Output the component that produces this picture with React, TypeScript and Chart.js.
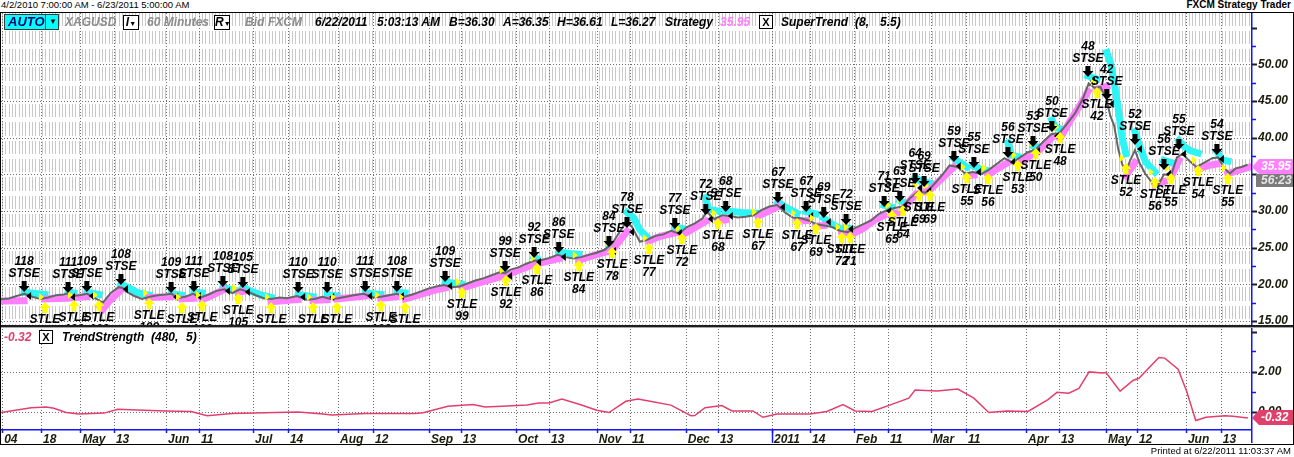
import React, { useEffect, useRef } from "react";
import { Chart, registerables } from "chart.js";

Chart.register(...registerables);

const SANS = '"Liberation Sans", Arial, Helvetica, sans-serif';
const bi = (size: number) => `italic bold ${size}px ${SANS}`;
const W = 1294;

// ---------- header texts ----------
const rangeText = "4/2/2010 7:00:00 AM - 6/23/2011 5:00:00 AM";
const appTitle = "FXCM Strategy Trader";
const printedText = "Printed at 6/22/2011 11:03:37 AM";
const symbol = "XAGUSD";
const period = "60 Minutes";
const quoteDate = "6/22/2011";
const quoteTime = "5:03:13 AM";
const bidText = "B=36.30";
const askText = "A=36.35";
const highText = "H=36.61";
const lowText = "L=36.27";
const countdown = "56:23";

// ---------- x axis (trading days since 4/2/2010) ----------
const X_MAX = 318.9;
const tickDays = [0.3, 10.2, 20.2, 28.8, 42.1, 50.5, 64.3, 73.2, 86.0, 94.9, 109.2, 117.3, 131.4, 139.8, 152.0, 160.5, 174.7, 182.9, 196.7, 206.4, 217.6, 226.3, 237.2, 246.2, 261.5, 269.9, 281.9, 289.8, 302.3, 311.2];
const tickLabels = ["04", "18", "May", "13", "Jun", "11", "Jul", "14", "Aug", "12", "Sep", "13", "Oct", "13", "Nov", "11", "Dec", "13", "2011", "14", "Feb", "11", "Mar", "11", "Apr", "13", "May", "12", "Jun", "13"];

// ---------- price panel ----------
const PRICE_MIN = 14.44;
const PRICE_MAX = 56.86;
const priceTicks = [15, 20, 25, 30, 35, 40, 45, 50];

const priceDays = [0, 2, 4, 6, 8, 10, 12, 14, 16, 17, 18, 20, 22, 24, 26, 28, 30, 31, 32, 34, 36, 38, 40, 42, 43.5, 45, 47, 49, 51, 53, 55, 57, 59, 61, 63, 65, 67, 69, 71, 73, 75.5, 78, 80, 82, 84, 86, 88, 90, 92.5, 95, 97, 99, 101, 103, 105, 107, 109, 111, 113, 115, 117, 119, 121, 123, 125, 127, 128.6, 130, 132, 134, 136, 138, 140, 142, 144, 146, 148, 150, 152, 154, 156, 158, 159.7, 161, 163, 165, 167, 169, 171, 173, 175, 177, 179, 180, 182, 184, 186, 188, 190, 192, 194, 196, 198, 200, 202, 204, 206, 208, 210, 212, 214, 216, 218, 220, 222, 224, 226, 228, 230, 232, 234, 236, 238, 240, 242, 244, 246, 248, 250, 252, 254, 256, 258, 260, 262, 264, 266, 268, 270, 272, 274, 276, 277.5, 279, 280.5, 282, 283, 284, 285, 286, 287, 288, 289.3, 290.5, 292, 293.5, 295, 296.7, 298.5, 300, 301.5, 303, 305, 307, 309, 310.5, 312, 313.5, 315, 316.5, 318];
const priceValues = [17.95, 18.05, 18.4, 18.7, 18.3, 18.0, 18.2, 18.5, 18.6, 18.75, 18.4, 18.5, 18.7, 18.1, 17.5, 18.8, 19.6, 19.5, 19.0, 18.4, 18.0, 18.3, 18.5, 18.6, 18.7, 18.1, 18.3, 18.7, 18.2, 18.6, 19.1, 19.3, 18.8, 19.3, 19.0, 18.5, 18.1, 18.0, 18.2, 18.1, 18.4, 17.9, 18.0, 18.3, 18.0, 18.1, 18.3, 18.5, 18.7, 18.2, 18.3, 18.5, 18.7, 18.3, 18.6, 19.0, 19.4, 19.7, 19.9, 19.6, 19.7, 20.1, 20.5, 20.8, 21.2, 21.6, 21.5, 22.0, 22.3, 22.8, 23.2, 23.3, 23.6, 24.0, 23.7, 23.5, 23.7, 24.0, 24.3, 24.7, 25.6, 27.3, 28.6, 27.8, 25.8, 26.1, 26.6, 26.8, 27.3, 26.9, 27.8, 28.3, 29.0, 29.9, 28.9, 29.4, 29.3, 29.1, 29.2, 29.4, 30.1, 30.6, 30.8, 29.8, 29.1, 29.0, 28.7, 28.2, 28.0, 27.8, 27.3, 27.1, 27.7, 28.2, 28.7, 29.6, 30.1, 30.4, 30.6, 31.8, 32.6, 32.5, 33.6, 34.8, 36.2, 36.0, 35.1, 35.3, 35.0, 35.6, 36.4, 37.2, 36.6, 37.3, 38.0, 38.4, 39.5, 40.5, 40.6, 41.9, 43.3, 45.3, 47.4, 46.8, 46.9, 45.3, 43.0, 41.6, 38.5, 36.4, 35.4, 36.8, 38.3, 36.5, 35.0, 34.0, 33.3, 35.0, 34.8, 37.3, 37.8, 36.9, 36.0, 36.6, 37.2, 37.3, 35.9, 35.1, 35.8, 36.0, 36.3];

// SuperTrend, up-trend (below price); null = break between segments
const upDays = [0, 5.9, null, 11.2, 17.1, null, 18.6, 21.9, null, 25.0, 26.0, 27.5, 29.0, 30.6, null, 37.8, 43.4, null, 46.2, 49.2, null, 51.3, 53.5, 56.6, null, 60.5, 61.7, null, 68.9, 75.8, null, 79.6, 83.2, null, 85.7, 92.9, null, 96.9, 101.0, null, 103.1, 107, 110, 113.3, null, 117.6, 122, 128.6, 128.8, 132, 136.0, null, 136.7, 142.3, null, 147.4, 151, 155.1, 155.9, 157.5, 159.7, null, 165.3, 168, 171.9, null, 173.7, 177, 179.8, null, 182.9, 184.9, null, 193.1, 196, 198.2, null, 203.1, 205.4, null, 207.9, 209.9, null, 214.5, 215.6, null, 216.6, 220, 223, 225.3, null, 227.3, 229.3, null, 230.1, 232, 233.2, null, 234.2, 235.5, null, 237.0, 240, 243.1, null, 246.4, 248.2, null, 251.8, 254, 256.9, null, 259.4, 263.3, 264.0, 266, 268.1, null, 270.2, 273, 275.5, 277.3, null, 279.6, 282.1, null, 287.0, 289.3, null, 294.4, 296.7, null, 298.5, 300.5, null, 305.4, 308, 310.2, null, 313.0, 315.5, 318.3];
const upValues = [17.7, 17.75, null, 18.0, 18.1, null, 18.2, 18.3, null, 17.1, 16.6, 17.6, 18.4, 19.2, null, 18.2, 18.3, null, 18.0, 18.1, null, 17.9, 18.4, 19.2, null, 18.9, 19.0, null, 17.6, 17.9, null, 17.8, 17.9, null, 18.0, 18.4, null, 18.1, 18.3, null, 18.0, 18.6, 19.1, 19.5, null, 19.5, 20.2, 21.2, 21.2, 21.9, 22.7, null, 22.8, 23.5, null, 23.3, 23.9, 24.5, 24.6, 25.7, 27.2, null, 25.9, 26.5, 27.0, null, 26.7, 27.7, 28.6, null, 28.6, 28.8, null, 29.3, 30.0, 30.6, null, 28.6, 28.7, null, 27.9, 28.0, null, 26.9, 27.0, null, 26.7, 27.6, 28.8, 29.4, null, 29.6, 29.8, null, 30.2, 31.5, 32.2, null, 32.4, 32.6, null, 32.9, 34.4, 36.0, null, 34.8, 34.9, null, 34.9, 35.7, 36.6, null, 36.4, 37.8, 37.9, 38.9, 40.0, null, 39.9, 42.5, 44.6, 46.3, null, 46.6, 47.0, null, 34.8, 36.6, null, 33.6, 34.0, null, 34.6, 36.9, null, 35.7, 36.2, 36.4, null, 35.1, 35.5, 35.95];

// SuperTrend, down-trend (above price)
const downDays = [5.9, 11.2, null, 17.1, 18.6, null, 21.9, 25.0, null, 30.6, 33, 35, 37.8, null, 43.4, 46.2, null, 49.2, 51.3, null, 56.6, 58.5, 60.5, null, 61.7, 64, 66.5, 68.9, null, 75.8, 79.6, null, 83.2, 85.7, null, 92.9, 96.9, null, 101.0, 103.1, null, 113.3, 117.6, null, 128.6, 128.8, null, 136.0, 136.7, null, 142.3, 145, 147.4, null, 155.1, 155.9, null, 159.7, 161.5, 163, 165.3, null, 171.9, 173.7, null, 179.8, 180.5, 182.9, null, 184.9, 189, 193.1, null, 198.2, 200.5, 203.1, null, 205.4, 207.9, null, 209.9, 212, 214.5, null, 215.6, 216.6, null, 225.3, 227.3, null, 229.3, 230.1, null, 233.2, 234.2, null, 235.5, 237.0, null, 243.1, 245, 246.4, null, 248.2, 250, 251.8, null, 256.9, 257.8, 259.4, null, 263.3, 264.0, null, 268.1, 269, 270.2, null, 277.3, 279.6, null, 282.1, 283, 284, 285, 286, 287.0, null, 289.3, 290.5, 292, 294.4, null, 296.7, 298.5, null, 300.5, 302, 303.5, 305.4, null, 310.2, 311.5, 313.0];
const downValues = [18.9, 18.6, null, 18.9, 18.8, null, 18.9, 18.6, null, 20.0, 19.4, 18.8, 18.5, null, 18.7, 18.5, null, 18.9, 18.8, null, 19.6, 19.3, 19.1, null, 19.6, 19.0, 18.5, 18.2, null, 18.6, 18.3, null, 18.6, 18.4, null, 18.8, 18.6, null, 18.9, 18.8, null, 20.3, 20.0, null, 21.9, 21.8, null, 23.7, 23.5, null, 24.4, 24.2, 24.1, null, 25.1, 25.0, null, 29.8, 29.0, 27.4, 26.2, null, 27.8, 27.6, null, 31.8, 30.2, 30.0, null, 30.0, 29.8, 29.7, null, 31.2, 30.4, 29.7, null, 29.9, 29.6, null, 29.0, 28.2, 27.5, null, 27.7, 27.6, null, 30.8, 30.5, null, 31.4, 31.2, null, 34.6, 34.2, null, 34.0, 33.8, null, 37.2, 36.5, 36.0, null, 36.1, 35.7, 35.5, null, 39.3, 37.6, 37.4, null, 38.9, 38.8, null, 42.4, 41.4, 41.2, null, 48.4, 48.0, null, 51.6, 50.3, 47.5, 44.0, 40.0, 37.8, null, 40.8, 38.8, 36.7, 35.3, null, 36.9, 36.6, null, 39.6, 38.7, 38.2, 37.9, null, 38.1, 37.0, 36.8];

// Short entries (STSE)
const stseDays = [5.9, 17.1, 21.9, 30.6, 43.4, 49.2, 56.6, 61.7, 75.8, 83.2, 92.9, 101.0, 113.3, 128.6, 136.0, 142.3, 155.1, 159.7, 171.9, 179.8, 184.9, 198.2, 205.4, 209.9, 215.6, 225.3, 229.3, 233.2, 235.5, 243.1, 248.2, 256.9, 263.3, 268.1, 277.3, 282.1, 289.3, 296.7, 300.5, 310.2];
const stseValues = [18.93, 18.81, 18.93, 19.9, 18.81, 18.93, 19.62, 19.49, 18.81, 18.81, 18.93, 18.93, 20.31, 21.67, 23.58, 24.26, 25.08, 27.67, 27.54, 29.45, 29.86, 31.09, 29.86, 29.04, 28.08, 30.54, 31.22, 33.68, 33.27, 36.68, 35.86, 37.22, 38.73, 40.77, 48.27, 45.14, 39.0, 35.59, 38.32, 37.63];
const stseCounts = [118, 111, 109, 108, 109, 111, 108, 105, 110, 110, 111, 108, 109, 99, 92, 86, 84, 78, 77, 72, 68, 67, 67, 69, 72, 71, 63, 64, 69, 59, 55, 56, 53, 50, 48, 42, 52, 56, 55, 54];

// Long entries (STLE)
const stleDays = [11.2, 18.6, 25.0, 37.8, 46.2, 51.3, 60.5, 68.9, 79.6, 85.7, 96.9, 103.1, 117.6, 128.8, 136.7, 147.4, 155.9, 165.3, 173.7, 182.9, 193.1, 203.1, 207.9, 214.5, 216.6, 227.3, 230.1, 234.2, 237.0, 246.4, 251.8, 259.4, 264.0, 270.2, 279.6, 287.0, 294.4, 298.5, 305.4, 313.0];
const stleValues = [17.58, 17.85, 17.85, 18.12, 17.58, 17.85, 18.81, 17.58, 17.58, 17.58, 17.85, 17.58, 19.62, 21.26, 22.9, 23.31, 25.08, 25.63, 26.99, 29.04, 29.17, 29.04, 28.36, 27.13, 27.13, 30.13, 30.81, 32.86, 32.86, 35.31, 35.18, 36.95, 38.59, 40.77, 46.91, 36.55, 34.63, 35.18, 36.27, 35.18];
const stleCounts = [111, 109, 108, 109, 111, 108, 105, 110, 110, 111, 108, 109, 99, 92, 86, 84, 78, 77, 72, 68, 67, 67, 69, 72, 71, 65, 64, 69, 69, 55, 56, 53, 50, 48, 42, 52, 56, 55, 54, 55];

// ---------- TrendStrength panel ----------
const TS_MIN = -0.875;
const TS_MAX = 4.125;
const tsTicks = [0, 2];
const tsDays = [0, 7.7, 11.5, 13.5, 16.6, 19.9, 26.3, 29.8, 34.7, 42.1, 48.5, 52.6, 58.9, 67.3, 75.8, 82.1, 84.4, 92.9, 105.6, 107.7, 114.0, 120.4, 123.5, 127.8, 134.2, 137.2, 139.8, 143.1, 147.7, 152.0, 155.1, 159.4, 162.5, 165.6, 170.9, 176.0, 177.0, 179.6, 183.9, 186.5, 191.8, 194.4, 198.0, 206.4, 210.7, 214.8, 217.9, 222.2, 228.3, 231.6, 233.2, 238.8, 244.1, 248.2, 252.0, 256.6, 262.0, 267.1, 269.4, 272.4, 275.0, 277.6, 280.9, 281.9, 285.5, 288.8, 290.3, 295.4, 296.9, 300.3, 302.5, 304.8, 307.4, 312.2, 314.3, 318.1];
const tsValues = [-0.05, 0.19, 0.22, 0.16, -0.05, -0.13, -0.08, 0.11, 0.08, 0.03, 0.0, -0.21, -0.1, -0.06, -0.02, -0.13, -0.18, -0.1, -0.1, -0.06, 0.26, 0.35, 0.22, 0.26, 0.32, 0.42, 0.43, 0.62, 0.35, 0.06, -0.05, 0.51, 0.62, 0.51, 0.32, -0.21, -0.2, 0.19, 0.3, 0.03, 0.03, -0.29, -0.13, -0.13, 0.0, 0.35, 0.03, 0.0, 0.43, 0.67, 1.07, 1.02, 1.12, 0.67, -0.05, 0.03, 0.0, 0.59, 0.96, 0.91, 1.15, 1.98, 1.92, 1.95, 1.02, 1.55, 1.66, 2.7, 2.67, 2.11, 1.0, -0.45, -0.29, -0.21, -0.24, -0.32];

// ---------- helpers ----------
function toPoints(days: (number | null)[], vals: (number | null)[]) {
  const out: { x: number; y: number | null }[] = [];
  let last = 0;
  for (let i = 0; i < days.length; i++) {
    const d = days[i];
    const v = vals[i];
    if (d === null || v === null) out.push({ x: last, y: null });
    else {
      out.push({ x: d, y: v });
      last = d;
    }
  }
  return out;
}

function hLine(ctx: CanvasRenderingContext2D, x1: number, x2: number, y: number) {
  ctx.beginPath();
  ctx.moveTo(x1, y);
  ctx.lineTo(x2, y);
  ctx.stroke();
}
function vLine(ctx: CanvasRenderingContext2D, x: number, y1: number, y2: number) {
  ctx.beginPath();
  ctx.moveTo(x, y1);
  ctx.lineTo(x, y2);
  ctx.stroke();
}

function drawTag(ctx: CanvasRenderingContext2D, left: number, y: number, text: string, fill: string) {
  ctx.fillStyle = fill;
  ctx.beginPath();
  ctx.moveTo(left + 1, y);
  ctx.lineTo(left + 8, y - 8);
  ctx.lineTo(W - 1, y - 8);
  ctx.lineTo(W - 1, y + 7);
  ctx.lineTo(left + 8, y + 7);
  ctx.closePath();
  ctx.fill();
  ctx.fillStyle = "#ffffff";
  ctx.font = bi(12);
  ctx.textAlign = "left";
  ctx.textBaseline = "middle";
  ctx.fillText(text, left + 10, y);
}

const tickFont = { family: SANS, size: 12, style: "italic" as const, weight: "bold" as const };
const AXIS_BLUE = "#1414ff";

const panelAPlugin = {
  id: "panelA",
  beforeDraw(chart: any) {
    const { ctx, chartArea: ca } = chart;
    const xs = chart.scales.x;
    const ys = chart.scales.y;
    ctx.save();
    ctx.fillStyle = "#ffffff";
    ctx.fillRect(0, 0, chart.width, chart.height);
    // hatch texture of the panel background
    ctx.fillStyle = "#c8c8c8";
    for (let x = ca.left + 1; x < ca.right - 0.5; x += 10 / 3) {
      ctx.fillRect(Math.round(x), 1, 1, ca.bottom - 1);
    }
    ctx.fillStyle = "#ffffff";
    for (let v = 2.5 * Math.ceil(PRICE_MIN / 2.5); v <= PRICE_MAX; v += 2.5) {
      const py = Math.round(ys.getPixelForValue(v));
      ctx.fillRect(ca.left, py - 2, ca.right - ca.left, 5);
    }
    // dotted grid
    ctx.strokeStyle = "#6e6e6e";
    ctx.lineWidth = 1;
    ctx.setLineDash([1, 2]);
    for (const v of priceTicks) hLine(ctx, ca.left, ca.right, Math.round(ys.getPixelForValue(v)) + 0.5);
    for (const d of tickDays) vLine(ctx, Math.round(xs.getPixelForValue(d)) + 0.5, 1, ca.bottom);
    ctx.setLineDash([]);
    ctx.restore();
  },
  afterDatasetsDraw(chart: any) {
    const { ctx, chartArea: ca } = chart;
    const xs = chart.scales.x;
    const ys = chart.scales.y;
    ctx.save();
    ctx.beginPath();
    ctx.rect(ca.left, 0, ca.right - ca.left, ca.bottom);
    ctx.clip();
    // exit markers
    stseDays.forEach((d, i) => {
      const x = xs.getPixelForValue(d);
      const y = ys.getPixelForValue(stseValues[i]);
      ctx.fillStyle = "#000000";
      ctx.beginPath();
      ctx.moveTo(x + 2, y + 4);
      ctx.lineTo(x + 7, y);
      ctx.lineTo(x + 7, y + 8);
      ctx.closePath();
      ctx.fill();
    });
    stleDays.forEach((d, i) => {
      const x = xs.getPixelForValue(d);
      const y = ys.getPixelForValue(stleValues[i]);
      ctx.fillStyle = "#ffff00";
      ctx.beginPath();
      ctx.moveTo(x - 1, y - 5);
      ctx.lineTo(x - 6, y - 9);
      ctx.lineTo(x - 6, y - 1);
      ctx.closePath();
      ctx.fill();
    });
    // entry arrows
    stseDays.forEach((d, i) => {
      const x = xs.getPixelForValue(d);
      const y = ys.getPixelForValue(stseValues[i]);
      ctx.fillStyle = "#000000";
      ctx.beginPath();
      ctx.moveTo(x - 2.5, y - 11);
      ctx.lineTo(x + 2.5, y - 11);
      ctx.lineTo(x + 2.5, y - 6);
      ctx.lineTo(x + 5.5, y - 6);
      ctx.lineTo(x, y);
      ctx.lineTo(x - 5.5, y - 6);
      ctx.lineTo(x - 2.5, y - 6);
      ctx.closePath();
      ctx.fill();
    });
    stleDays.forEach((d, i) => {
      const x = xs.getPixelForValue(d);
      const y = ys.getPixelForValue(stleValues[i]);
      ctx.fillStyle = "#ffff00";
      ctx.beginPath();
      ctx.moveTo(x - 2.5, y + 11);
      ctx.lineTo(x + 2.5, y + 11);
      ctx.lineTo(x + 2.5, y + 6);
      ctx.lineTo(x + 5.5, y + 6);
      ctx.lineTo(x, y);
      ctx.lineTo(x - 5.5, y + 6);
      ctx.lineTo(x - 2.5, y + 6);
      ctx.closePath();
      ctx.fill();
    });
    // labels
    ctx.font = bi(12);
    ctx.textAlign = "center";
    ctx.textBaseline = "middle";
    ctx.fillStyle = "#000000";
    stseDays.forEach((d, i) => {
      const x = xs.getPixelForValue(d);
      const y = ys.getPixelForValue(stseValues[i]);
      ctx.fillText("STSE", x, y - 18);
      ctx.fillText(String(stseCounts[i]), x, y - 30);
    });
    stleDays.forEach((d, i) => {
      const x = xs.getPixelForValue(d);
      const y = ys.getPixelForValue(stleValues[i]);
      ctx.fillText("STLE", x, y + 18);
      ctx.fillText(String(stleCounts[i]), x, y + 30);
    });
    ctx.restore();
  },
  afterDraw(chart: any) {
    const { ctx, chartArea: ca } = chart;
    const ys = chart.scales.y;
    ctx.save();
    // right axis line
    ctx.strokeStyle = AXIS_BLUE;
    ctx.lineWidth = 1.5;
    vLine(ctx, ca.right + 0.75, 0, chart.height);
    // axis tick marks
    for (let v = 2.5 * Math.ceil(PRICE_MIN / 2.5); v <= PRICE_MAX; v += 2.5) {
      const py = Math.round(ys.getPixelForValue(v)) + 0.5;
      const major = Math.abs(v % 5) < 0.01;
      ctx.strokeStyle = major ? "#1c1c30" : AXIS_BLUE;
      ctx.lineWidth = major ? 2 : 1.5;
      hLine(ctx, ca.right + 1, ca.right + (major ? 6 : 5), py);
    }
    // last-value tags
    const last = upValues[upValues.length - 1] as number;
    const ty = Math.round(ys.getPixelForValue(last));
    drawTag(ctx, ca.right, ty, last.toFixed(2), "#ff80ff");
    ctx.fillStyle = "#7a7a7a";
    ctx.fillRect(ca.right + 5, ty + 7, W - 1 - (ca.right + 5), 13);
    ctx.fillStyle = "#e6e6e6";
    ctx.font = bi(12);
    ctx.textAlign = "left";
    ctx.textBaseline = "middle";
    ctx.fillText(countdown, ca.right + 10, ty + 14);
    ctx.restore();
  },
};

const panelBPlugin = {
  id: "panelB",
  beforeDraw(chart: any) {
    const { ctx, chartArea: ca } = chart;
    const xs = chart.scales.x;
    const ys = chart.scales.y;
    ctx.save();
    ctx.fillStyle = "#ffffff";
    ctx.fillRect(0, 0, chart.width, chart.height);
    ctx.strokeStyle = "#6e6e6e";
    ctx.lineWidth = 1;
    ctx.setLineDash([1, 2]);
    for (const v of tsTicks) hLine(ctx, ca.left, ca.right, Math.round(ys.getPixelForValue(v)) + 0.5);
    for (const d of tickDays) vLine(ctx, Math.round(xs.getPixelForValue(d)) + 0.5, ca.top, ca.bottom);
    ctx.setLineDash([]);
    ctx.restore();
  },
  afterDraw(chart: any) {
    const { ctx, chartArea: ca } = chart;
    const xs = chart.scales.x;
    const ys = chart.scales.y;
    ctx.save();
    ctx.strokeStyle = AXIS_BLUE;
    ctx.lineWidth = 1.5;
    // x axis line and ticks
    hLine(ctx, 0, ca.right + 1, ca.bottom + 0.75);
    for (const d of tickDays) vLine(ctx, Math.round(xs.getPixelForValue(d)) + 0.5, ca.bottom, ca.bottom + 4);
    // year separator
    const yearIdx = tickLabels.indexOf("2011");
    vLine(ctx, Math.round(xs.getPixelForValue(tickDays[yearIdx])) + 0.5, ca.bottom, chart.height - 3);
    // right axis line
    vLine(ctx, ca.right + 0.75, 0, chart.height - 3);
    for (let v = Math.ceil(TS_MIN); v <= TS_MAX; v += 1) {
      const py = Math.round(ys.getPixelForValue(v)) + 0.5;
      const major = v % 2 === 0;
      ctx.strokeStyle = major ? "#1c1c30" : AXIS_BLUE;
      ctx.lineWidth = major ? 2 : 1.5;
      hLine(ctx, ca.right + 1, ca.right + (major ? 6 : 5), py);
    }
    const last = tsValues[tsValues.length - 1];
    drawTag(ctx, ca.right, Math.round(ys.getPixelForValue(last)), last.toFixed(2), "#e2406c");
    ctx.restore();
  },
};

function makePriceChart(canvas: HTMLCanvasElement) {
  return new Chart(canvas, {
    type: "line",
    data: {
      datasets: [
        { data: toPoints(priceDays, priceValues), borderColor: "#666666", borderWidth: 2, pointRadius: 0, tension: 0 },
        { data: toPoints(upDays, upValues), borderColor: "#ff80ff", borderWidth: 7, pointRadius: 0, spanGaps: false, borderCapStyle: "square" },
        { data: toPoints(upDays, upValues), borderColor: "#c53ec8", borderWidth: 1.5, borderDash: [2, 2], pointRadius: 0, spanGaps: false },
        { data: toPoints(downDays, downValues), borderColor: "#2ef5f5", borderWidth: 7, pointRadius: 0, spanGaps: false, borderCapStyle: "square" },
      ],
    } as any,
    options: {
      responsive: false,
      animation: false,
      events: [],
      layout: { padding: { left: 1, top: 2, right: 0, bottom: 3 } },
      plugins: { legend: { display: false }, tooltip: { enabled: false } },
      scales: {
        x: { type: "linear", min: 0, max: X_MAX, display: false },
        y: {
          type: "linear",
          position: "right",
          min: PRICE_MIN,
          max: PRICE_MAX,
          grid: { display: false, drawTicks: false },
          border: { display: false },
          ticks: { font: tickFont, color: "#1c1c0c", padding: 7, callback: (v: any) => Number(v).toFixed(2) },
          afterBuildTicks: (s: any) => {
            s.ticks = priceTicks.map((v) => ({ value: v }));
          },
          afterFit: (s: any) => {
            s.width = 43;
            s.paddingTop = 0;
            s.paddingBottom = 0;
          },
        },
      },
    } as any,
    plugins: [panelAPlugin],
  });
}

function makeTrendChart(canvas: HTMLCanvasElement) {
  return new Chart(canvas, {
    type: "line",
    data: {
      datasets: [
        { data: toPoints(tsDays, tsValues), borderColor: "#e2406c", borderWidth: 1.5, pointRadius: 0, tension: 0 },
      ],
    } as any,
    options: {
      responsive: false,
      animation: false,
      events: [],
      layout: { padding: { left: 1, top: 1, right: 0, bottom: 0 } },
      plugins: { legend: { display: false }, tooltip: { enabled: false } },
      scales: {
        x: {
          type: "linear",
          position: "bottom",
          min: 0,
          max: X_MAX,
          grid: { display: false, drawTicks: false },
          border: { display: false },
          ticks: {
            autoSkip: false,
            maxRotation: 0,
            minRotation: 0,
            align: "start",
            labelOffset: 2,
            padding: 3,
            font: tickFont,
            color: "#1c1c0c",
            callback: (_v: any, i: number) => tickLabels[i] ?? "",
          },
          afterBuildTicks: (s: any) => {
            s.ticks = tickDays.map((v) => ({ value: v }));
          },
          afterFit: (s: any) => {
            s.height = 17;
            s.paddingLeft = 0;
            s.paddingRight = 0;
          },
        },
        y: {
          type: "linear",
          position: "right",
          min: TS_MIN,
          max: TS_MAX,
          grid: { display: false, drawTicks: false },
          border: { display: false },
          ticks: { font: tickFont, color: "#1c1c0c", padding: 7, callback: (v: any) => Number(v).toFixed(2) },
          afterBuildTicks: (s: any) => {
            s.ticks = tsTicks.map((v) => ({ value: v }));
          },
          afterFit: (s: any) => {
            s.width = 43;
            s.paddingTop = 0;
            s.paddingBottom = 0;
          },
        },
      },
    } as any,
    plugins: [panelBPlugin],
  });
}

type TxtProps = {
  x: number;
  y: number;
  children: React.ReactNode;
  size?: number;
  color?: string;
  bold?: boolean;
  italic?: boolean;
  anchor?: "left" | "right";
};

function Txt({ x, y, children, size = 12, color = "#000", bold = true, italic = true, anchor = "left" }: TxtProps) {
  const lh = size + 4;
  const style: React.CSSProperties = {
    position: "absolute",
    top: y - lh / 2,
    fontSize: size,
    lineHeight: `${lh}px`,
    color,
    fontWeight: bold ? 700 : 400,
    fontStyle: italic ? "italic" : "normal",
    fontFamily: SANS,
    whiteSpace: "nowrap",
  };
  if (anchor === "right") style.right = W - x;
  else style.left = x;
  return <div style={style}>{children}</div>;
}

function Box({ x, y, w, h, children }: { x: number; y: number; w: number; h: number; children: React.ReactNode }) {
  return (
    <div
      style={{
        position: "absolute",
        left: x,
        top: y,
        width: w,
        height: h,
        border: "1px solid #000",
        boxSizing: "border-box",
        background: "#fff",
        fontFamily: SANS,
        fontWeight: 700,
        fontSize: 11,
        lineHeight: `${h - 2}px`,
        textAlign: "center",
        whiteSpace: "nowrap",
      }}
    >
      {children}
    </div>
  );
}

export default function App() {
  const refA = useRef<HTMLCanvasElement>(null);
  const refB = useRef<HTMLCanvasElement>(null);

  useEffect(() => {
    const a = makePriceChart(refA.current!);
    const b = makeTrendChart(refB.current!);
    return () => {
      a.destroy();
      b.destroy();
    };
  }, []);

  const grey = "#8c8c8c";
  return (
    <div style={{ position: "absolute", left: 0, top: 0, width: W, height: 457, background: "#fff", overflow: "hidden" }}>
      <canvas ref={refA} width={W} height={316} style={{ position: "absolute", left: 0, top: 12, width: W, height: 316 }} />
      <canvas ref={refB} width={W} height={118} style={{ position: "absolute", left: 0, top: 328, width: W, height: 118 }} />

      {/* panel separator */}
      <div style={{ position: "absolute", left: 0, top: 325, width: W, height: 2, background: "#1e1e1e" }} />
      <div style={{ position: "absolute", left: 0, top: 327, width: W, height: 1, background: "#a8a8a8" }} />
      {/* outer frame */}
      <div style={{ position: "absolute", left: 0, top: 12, width: W, height: 433, border: "1px solid #000", boxSizing: "border-box", pointerEvents: "none" }} />

      {/* top line */}
      <Txt x={1} y={5} size={9.5} bold={false} italic={false}>{rangeText}</Txt>
      <Txt x={1291} y={5} size={10} italic={false} anchor="right">{appTitle}</Txt>

      {/* toolbar */}
      <div style={{ position: "absolute", left: 4, top: 14, width: 55, height: 16, background: "#00ffff", border: "1px solid #3a3a3a", boxSizing: "border-box" }}>
        <span style={{ position: "absolute", left: 3, top: 0, lineHeight: "14px", fontFamily: SANS, fontStyle: "italic", fontWeight: 700, fontSize: 13, color: "#00006e" }}>AUTO</span>
        <div style={{ position: "absolute", left: 40, top: 0, width: 1, height: 14, background: "#3a3a3a" }} />
        <span style={{ position: "absolute", left: 44, top: 0, lineHeight: "14px", fontSize: 8, color: "#000" }}>▼</span>
      </div>
      <Txt x={65} y={22} color={grey}>{symbol}</Txt>
      <Box x={123} y={15} w={16} h={15}>
        <span style={{ fontStyle: "italic", fontSize: 12 }}>I</span>
        <span style={{ fontSize: 7 }}>▼</span>
      </Box>
      <Txt x={147} y={22} color={grey}>{period}</Txt>
      <Box x={214} y={15} w={16} h={15}>
        <span style={{ fontStyle: "italic", fontSize: 12 }}>R</span>
        <span style={{ fontSize: 7 }}>▼</span>
      </Box>
      <Txt x={245} y={22} color={grey}>Bid</Txt>
      <Txt x={268} y={22} color={grey}>FXCM</Txt>
      <Txt x={315} y={22}>{quoteDate}</Txt>
      <Txt x={377} y={22}>{quoteTime}</Txt>
      <Txt x={449} y={22}>{bidText}</Txt>
      <Txt x={503} y={22}>{askText}</Txt>
      <Txt x={557} y={22}>{highText}</Txt>
      <Txt x={611} y={22}>{lowText}</Txt>
      <Txt x={665} y={22}>Strategy</Txt>
      <Txt x={720} y={22} color="#ff80ff">{(upValues[upValues.length - 1] as number).toFixed(2)}</Txt>
      <Box x={759} y={15} w={14} h={14}>X</Box>
      <Txt x={781} y={22}>SuperTrend</Txt>
      <Txt x={855} y={22}>(8,</Txt>
      <Txt x={880} y={22}>5.5)</Txt>

      {/* lower panel header */}
      <Txt x={4} y={337} color="#e2406c">{tsValues[tsValues.length - 1].toFixed(2)}</Txt>
      <Box x={39} y={330} w={14} h={14}>X</Box>
      <Txt x={62} y={337}>TrendStrength</Txt>
      <Txt x={151} y={337}>(480,</Txt>
      <Txt x={186} y={337}>5)</Txt>

      {/* footer */}
      <Txt x={1291} y={451} size={9.5} bold={false} italic={false} anchor="right">{printedText}</Txt>
    </div>
  );
}
